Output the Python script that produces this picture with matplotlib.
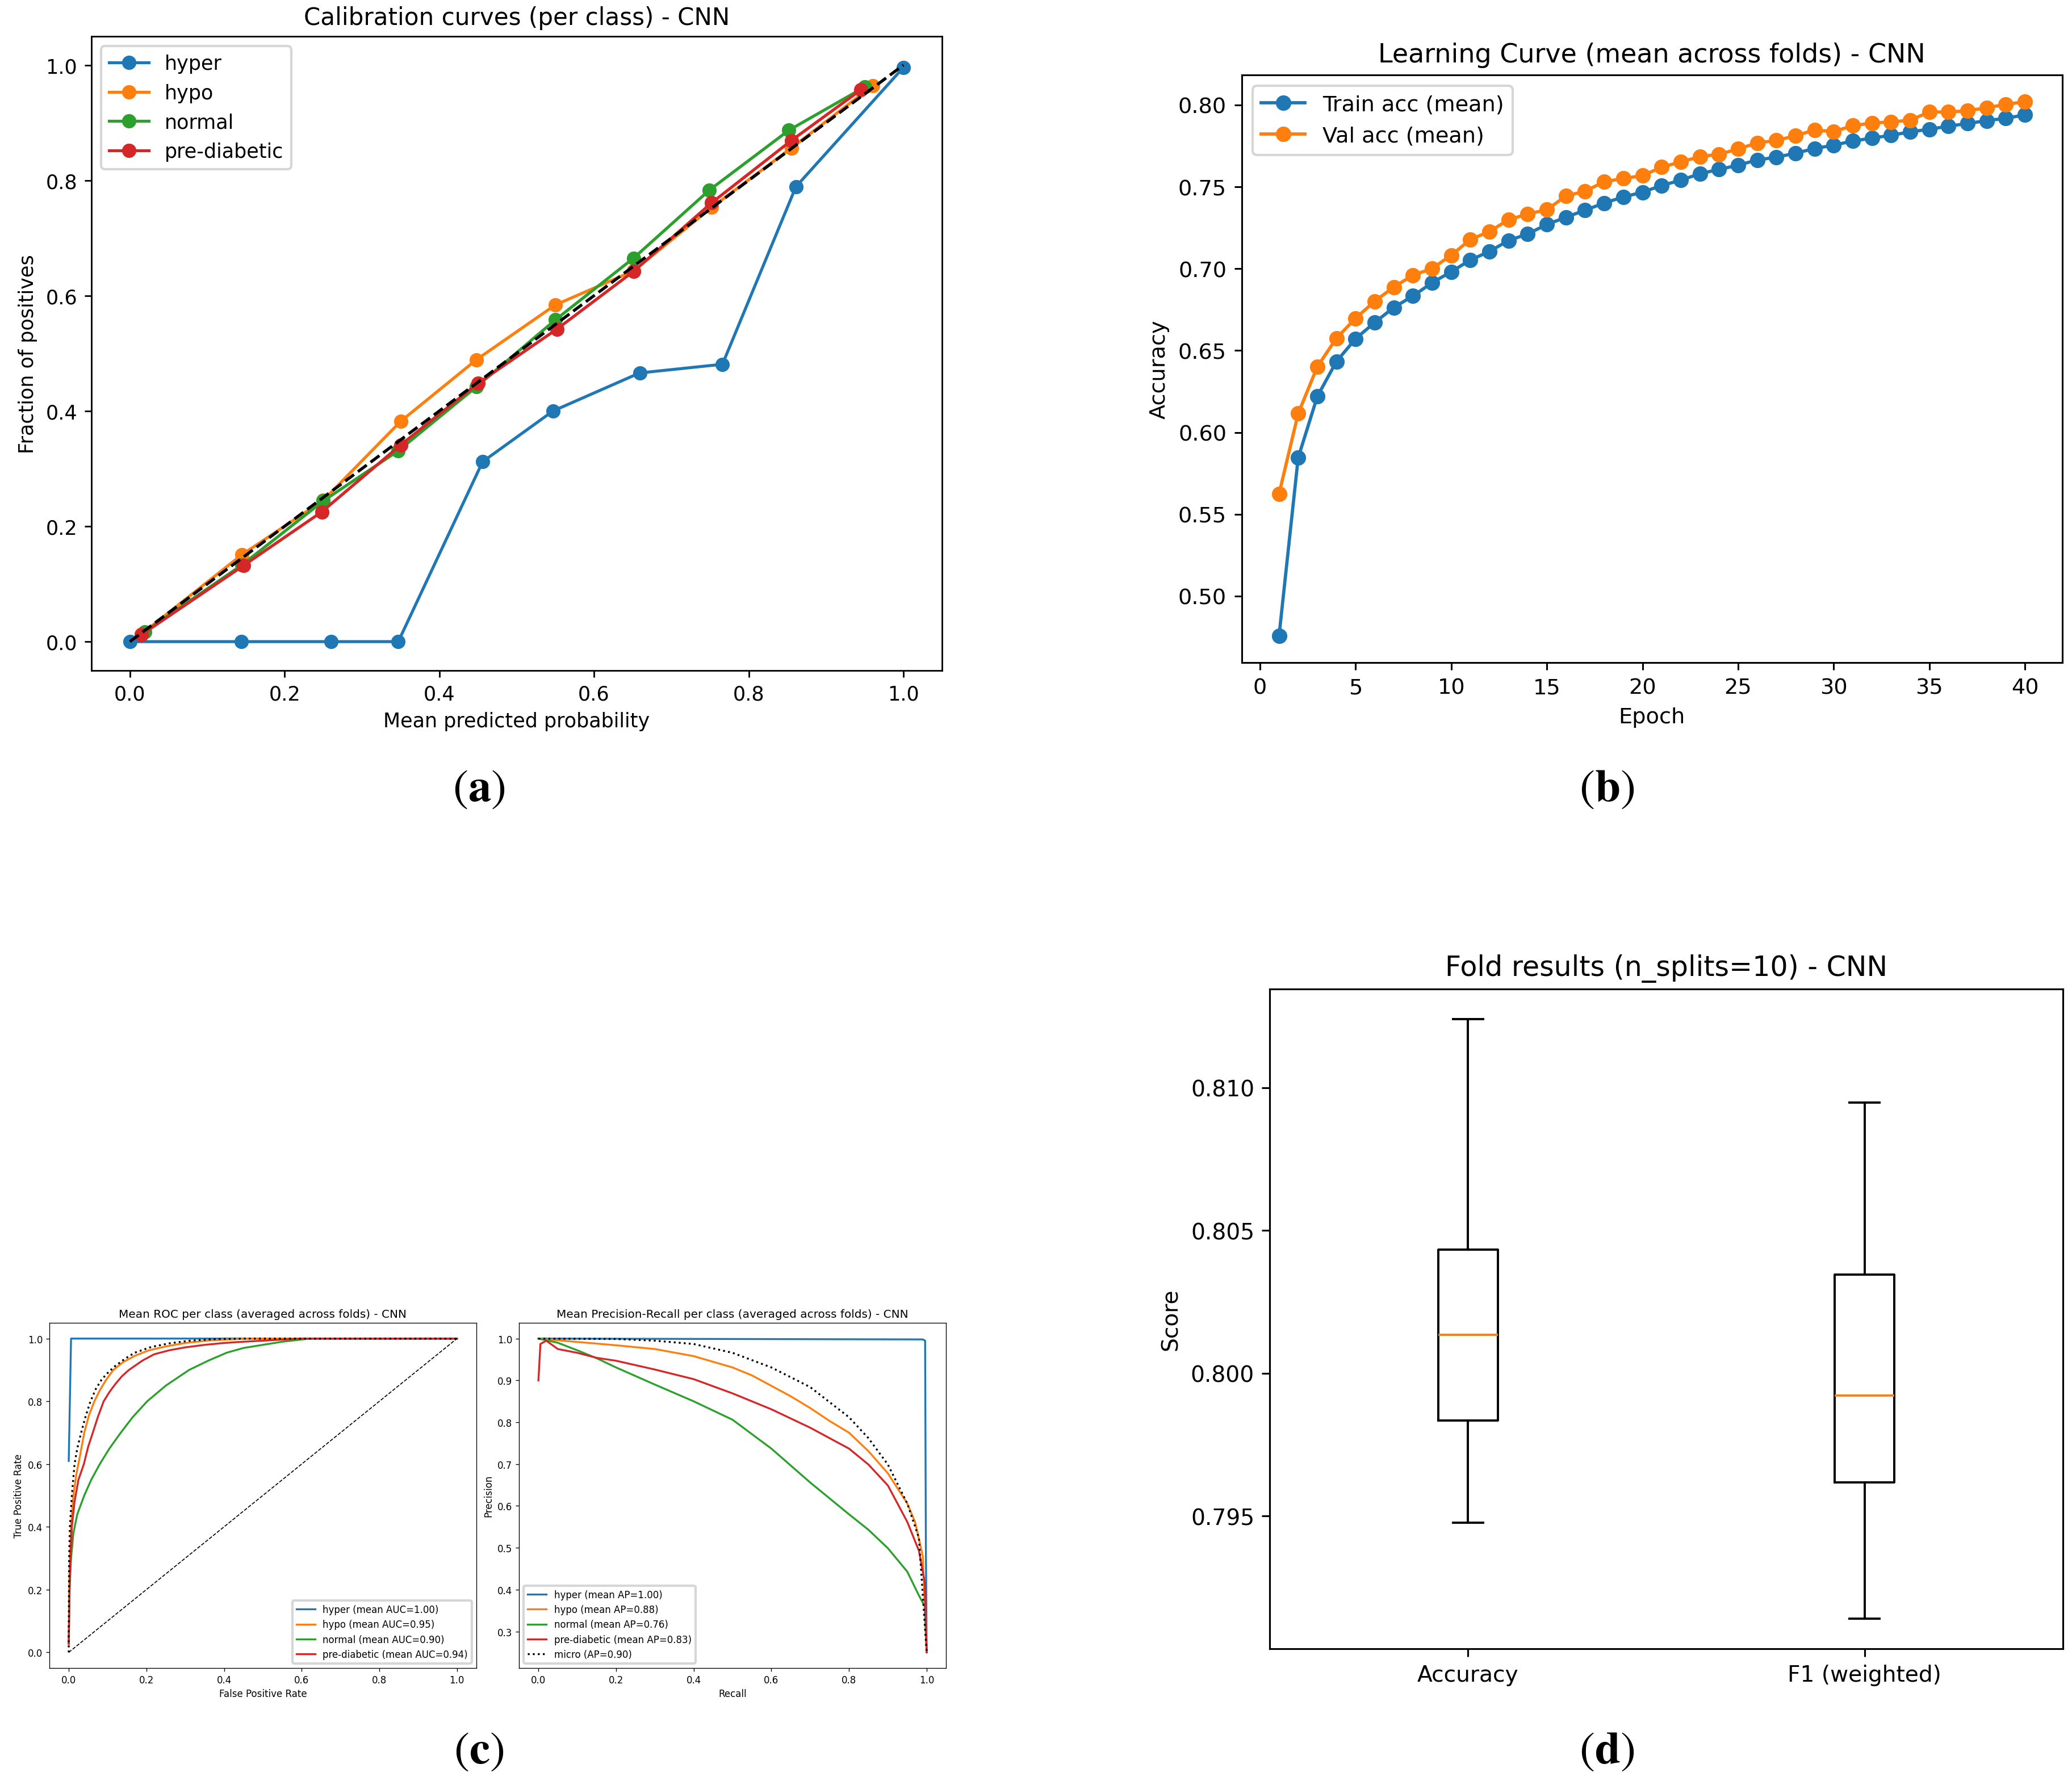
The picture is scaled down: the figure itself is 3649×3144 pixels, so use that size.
import numpy as np
import matplotlib
matplotlib.use("Agg")
import matplotlib.pyplot as plt

classes = ["hyper", "hypo", "normal", "pre-diabetic"]

# (a) calibration curves: mean predicted probability / fraction of positives
cal_x_hyper = [0.0, 0.144, 0.260, 0.347, 0.456, 0.547, 0.659, 0.766, 0.861, 1.0]
cal_y_hyper = [0.0, 0.0, 0.0, 0.0, 0.312, 0.400, 0.466, 0.481, 0.789, 0.996]
cal_x_hypo = [0.015, 0.145, 0.250, 0.350, 0.448, 0.550, 0.651, 0.752, 0.855, 0.960]
cal_y_hypo = [0.013, 0.151, 0.245, 0.382, 0.489, 0.584, 0.643, 0.753, 0.856, 0.964]
cal_x_normal = [0.019, 0.145, 0.250, 0.347, 0.448, 0.550, 0.651, 0.749, 0.852, 0.950]
cal_y_normal = [0.017, 0.133, 0.244, 0.331, 0.442, 0.558, 0.665, 0.783, 0.887, 0.962]
cal_x_pre = [0.015, 0.147, 0.248, 0.350, 0.450, 0.552, 0.651, 0.752, 0.855, 0.945]
cal_y_pre = [0.012, 0.132, 0.225, 0.341, 0.448, 0.542, 0.642, 0.761, 0.869, 0.957]

# (b) learning curve
epochs = list(range(1, 41))
train_acc = [0.4757, 0.5845, 0.6219, 0.6433, 0.6572, 0.6671, 0.6763, 0.6833, 0.6914, 0.6981,
             0.7053, 0.7105, 0.7172, 0.7212, 0.7270, 0.7314, 0.7357, 0.7401, 0.7438, 0.7467,
             0.7508, 0.7540, 0.7580, 0.7606, 0.7632, 0.7664, 0.7681, 0.7705, 0.7734, 0.7754,
             0.7780, 0.7797, 0.7815, 0.7835, 0.7852, 0.7870, 0.7887, 0.7904, 0.7919, 0.7939]
val_acc = [0.5625, 0.6115, 0.6401, 0.6575, 0.6697, 0.6801, 0.6888, 0.6960, 0.7001, 0.7082,
           0.7178, 0.7227, 0.7299, 0.7334, 0.7360, 0.7444, 0.7473, 0.7531, 0.7551, 0.7568,
           0.7620, 0.7652, 0.7684, 0.7699, 0.7731, 0.7768, 0.7783, 0.7812, 0.7847, 0.7838,
           0.7873, 0.7890, 0.7896, 0.7907, 0.7957, 0.7957, 0.7965, 0.7983, 0.8003, 0.8020]

# (c) mean ROC per class
roc_fpr_hyper = [0.0, 0.006, 1.0]
roc_tpr_hyper = [0.61, 1.0, 1.0]
roc_fpr_hypo = [0.0, 0.002, 0.006, 0.012, 0.02, 0.028, 0.04, 0.052, 0.066, 0.08, 0.097,
                0.115, 0.14, 0.17, 0.205, 0.25, 0.30, 0.36, 0.46, 1.0]
roc_tpr_hypo = [0.027, 0.25, 0.40, 0.50, 0.57, 0.62, 0.70, 0.755, 0.80, 0.835, 0.87,
                0.90, 0.925, 0.945, 0.962, 0.975, 0.986, 0.994, 1.0, 1.0]
roc_fpr_normal = [0.0, 0.002, 0.006, 0.012, 0.022, 0.040, 0.058, 0.080, 0.105, 0.134, 0.165,
                  0.202, 0.25, 0.31, 0.36, 0.407, 0.45, 0.5, 0.55, 0.62, 1.0]
roc_tpr_normal = [0.027, 0.20, 0.30, 0.38, 0.44, 0.50, 0.55, 0.60, 0.65, 0.70, 0.75,
                  0.80, 0.85, 0.90, 0.93, 0.955, 0.97, 0.98, 0.99, 1.0, 1.0]
roc_fpr_pre = [0.0, 0.003, 0.008, 0.015, 0.025, 0.039, 0.05, 0.062, 0.075, 0.09, 0.105,
               0.12, 0.137, 0.155, 0.19, 0.22, 0.26, 0.30, 0.35, 0.40, 0.45, 0.6, 1.0]
roc_tpr_pre = [0.027, 0.25, 0.40, 0.48, 0.55, 0.60, 0.655, 0.70, 0.75, 0.80, 0.83,
               0.855, 0.88, 0.90, 0.93, 0.95, 0.963, 0.972, 0.98, 0.986, 0.99, 1.0, 1.0]
roc_fpr_micro = [0.0, 0.001, 0.003, 0.008, 0.015, 0.022, 0.032, 0.043, 0.056, 0.07, 0.085,
                 0.10, 0.117, 0.144, 0.17, 0.212, 0.26, 0.31, 0.37, 0.45, 1.0]
roc_tpr_micro = [0.0, 0.30, 0.40, 0.50, 0.60, 0.65, 0.70, 0.75, 0.80, 0.84, 0.87,
                 0.89, 0.91, 0.935, 0.955, 0.973, 0.985, 0.993, 0.998, 1.0, 1.0]
auc_vals = [1.00, 0.95, 0.90, 0.94]

# (c) mean precision-recall per class
pr_rec_hyper = [0.0, 0.99, 0.996, 0.998, 1.0]
pr_prec_hyper = [1.0, 0.998, 0.995, 0.5, 0.25]
pr_rec_hypo = [0.0, 0.1, 0.2, 0.3, 0.4, 0.5, 0.55, 0.6, 0.65, 0.7, 0.75, 0.8, 0.85,
               0.9, 0.95, 0.97, 0.99, 1.0]
pr_prec_hypo = [1.0, 0.992, 0.984, 0.975, 0.958, 0.931, 0.912, 0.887, 0.862, 0.834, 0.803,
                0.775, 0.731, 0.678, 0.606, 0.562, 0.48, 0.25]
pr_rec_normal = [0.0, 0.05, 0.1, 0.15, 0.2, 0.3, 0.4, 0.5, 0.6, 0.7, 0.8, 0.85, 0.9,
                 0.95, 0.98, 0.995, 1.0]
pr_prec_normal = [1.0, 0.99, 0.972, 0.953, 0.931, 0.89, 0.85, 0.806, 0.737, 0.656, 0.58,
                  0.543, 0.499, 0.443, 0.386, 0.36, 0.25]
pr_rec_pre = [0.0, 0.005, 0.02, 0.05, 0.1, 0.15, 0.2, 0.3, 0.4, 0.5, 0.6, 0.7, 0.8,
              0.85, 0.9, 0.95, 0.98, 0.995, 1.0]
pr_prec_pre = [0.90, 0.987, 0.995, 0.975, 0.966, 0.954, 0.947, 0.926, 0.903, 0.869, 0.831,
               0.787, 0.737, 0.699, 0.649, 0.562, 0.493, 0.418, 0.25]
pr_rec_micro = [0.0, 0.2, 0.3, 0.4, 0.5, 0.6, 0.7, 0.8, 0.85, 0.9, 0.95, 0.98, 1.0]
pr_prec_micro = [1.0, 0.999, 0.995, 0.987, 0.966, 0.931, 0.884, 0.812, 0.762, 0.699,
                 0.606, 0.524, 0.25]
ap_vals = [1.00, 0.88, 0.76, 0.83]
ap_micro = 0.90

# (d) fold results box stats
box_labels = ["Accuracy", "F1 (weighted)"]
box_whislo = [0.79477, 0.79140]
box_q1 = [0.79835, 0.79617]
box_med = [0.80135, 0.79921]
box_q3 = [0.80433, 0.80345]
box_whishi = [0.81240, 0.80947]


def style(ax, f, fs):
    for s in ax.spines.values():
        s.set_linewidth(0.8 * f)
    ax.tick_params(labelsize=fs, length=3.5 * f, width=0.8 * f, pad=3.5 * f)


fig = plt.figure(figsize=(3649 / 300, 3145 / 300), dpi=300)

# ---- (a) calibration
f = 0.84
ax = fig.add_axes([0.0440, 0.6242, 0.4107, 0.3552])
for xs, ys, name in [(cal_x_hyper, cal_y_hyper, classes[0]), (cal_x_hypo, cal_y_hypo, classes[1]),
                     (cal_x_normal, cal_y_normal, classes[2]), (cal_x_pre, cal_y_pre, classes[3])]:
    ax.plot(xs, ys, marker="o", lw=1.5 * f, ms=6 * f, label=name)
ax.plot([0, 1], [0, 1], "k--", lw=1.5 * f)
ax.set_title("Calibration curves (per class) - CNN", fontsize=12 * f, pad=6 * f)
ax.set_xlabel("Mean predicted probability", fontsize=10 * f, labelpad=4 * f)
ax.set_ylabel("Fraction of positives", fontsize=10 * f, labelpad=4 * f)
ax.legend(loc="upper left", fontsize=10 * f)
style(ax, f, 10 * f)

# ---- (b) learning curve
f = 0.92
ax = fig.add_axes([0.5993, 0.6286, 0.3960, 0.3291])
ax.plot(epochs, train_acc, marker="o", lw=1.5 * f, ms=6 * f, label="Train acc (mean)")
ax.plot(epochs, val_acc, marker="o", lw=1.5 * f, ms=6 * f, label="Val acc (mean)")
ax.set_title("Learning Curve (mean across folds) - CNN", fontsize=12 * f, pad=6 * f)
ax.set_xlabel("Epoch", fontsize=10 * f, labelpad=4 * f)
ax.set_ylabel("Accuracy", fontsize=10 * f, labelpad=4 * f)
ax.legend(loc="upper left", fontsize=10 * f)
style(ax, f, 10 * f)

# ---- (c) ROC
f = 0.4
ax = fig.add_axes([0.0238, 0.0655, 0.2061, 0.1933])
roc = [(roc_fpr_hyper, roc_tpr_hyper), (roc_fpr_hypo, roc_tpr_hypo),
       (roc_fpr_normal, roc_tpr_normal), (roc_fpr_pre, roc_tpr_pre)]
for (xs, ys), name, a in zip(roc, classes, auc_vals):
    ax.plot(xs, ys, lw=2 * f, label=f"{name} (mean AUC={a:.2f})")
ax.plot(roc_fpr_micro, roc_tpr_micro, "k:", lw=2 * f)
ax.plot([0, 1], [0, 1], "k--", lw=1 * f)
ax.set_title("Mean ROC per class (averaged across folds) - CNN", fontsize=12 * f, pad=6 * f)
ax.set_xlabel("False Positive Rate", fontsize=10 * f, labelpad=4 * f)
ax.set_ylabel("True Positive Rate", fontsize=10 * f, labelpad=4 * f)
ax.legend(loc="lower right", fontsize=10 * f)
style(ax, f, 10 * f)

# ---- (c) PR
ax = fig.add_axes([0.2505, 0.0655, 0.2061, 0.1933])
pr = [(pr_rec_hyper, pr_prec_hyper), (pr_rec_hypo, pr_prec_hypo),
      (pr_rec_normal, pr_prec_normal), (pr_rec_pre, pr_prec_pre)]
for (xs, ys), name, a in zip(pr, classes, ap_vals):
    ax.plot(xs, ys, lw=2 * f, label=f"{name} (mean AP={a:.2f})")
ax.plot(pr_rec_micro, pr_prec_micro, "k:", lw=2 * f, label=f"micro (AP={ap_micro:.2f})")
ax.set_title("Mean Precision-Recall per class (averaged across folds) - CNN", fontsize=12 * f, pad=6 * f)
ax.set_xlabel("Recall", fontsize=10 * f, labelpad=4 * f)
ax.set_ylabel("Precision", fontsize=10 * f, labelpad=4 * f)
ax.legend(loc="lower left", fontsize=10 * f)
style(ax, f, 10 * f)

# ---- (d) box plot
f = 0.94
ax = fig.add_axes([0.6129, 0.0763, 0.3826, 0.3695])
stats = []
for i in range(len(box_labels)):
    stats.append(dict(label=box_labels[i], whislo=box_whislo[i], q1=box_q1[i], med=box_med[i],
                      q3=box_q3[i], whishi=box_whishi[i], fliers=[]))
ax.bxp(stats, showfliers=False,
       boxprops=dict(lw=1.0 * f), whiskerprops=dict(lw=1.0 * f),
       capprops=dict(lw=1.0 * f), medianprops=dict(lw=1.0 * f, color="C1"))
ax.set_title("Fold results (n_splits=10) - CNN", fontsize=12.5 * f, pad=6 * f)
ax.set_ylabel("Score", fontsize=10 * f, labelpad=4 * f)
ax.set_yticks([0.795, 0.800, 0.805, 0.810])
style(ax, f, 10 * f)

# panel letters
for x, y, s in [(0.2310, 0.5583, "a"), (0.7755, 0.5583, "b"),
                (0.2310, 0.0195, "c"), (0.7755, 0.0195, "d")]:
    fig.text(x, y, r"$(\mathbf{%s})$" % s, fontsize=19.5, math_fontfamily="stix",
             ha="center", va="center")

fig.savefig("out.png", dpi=300)
